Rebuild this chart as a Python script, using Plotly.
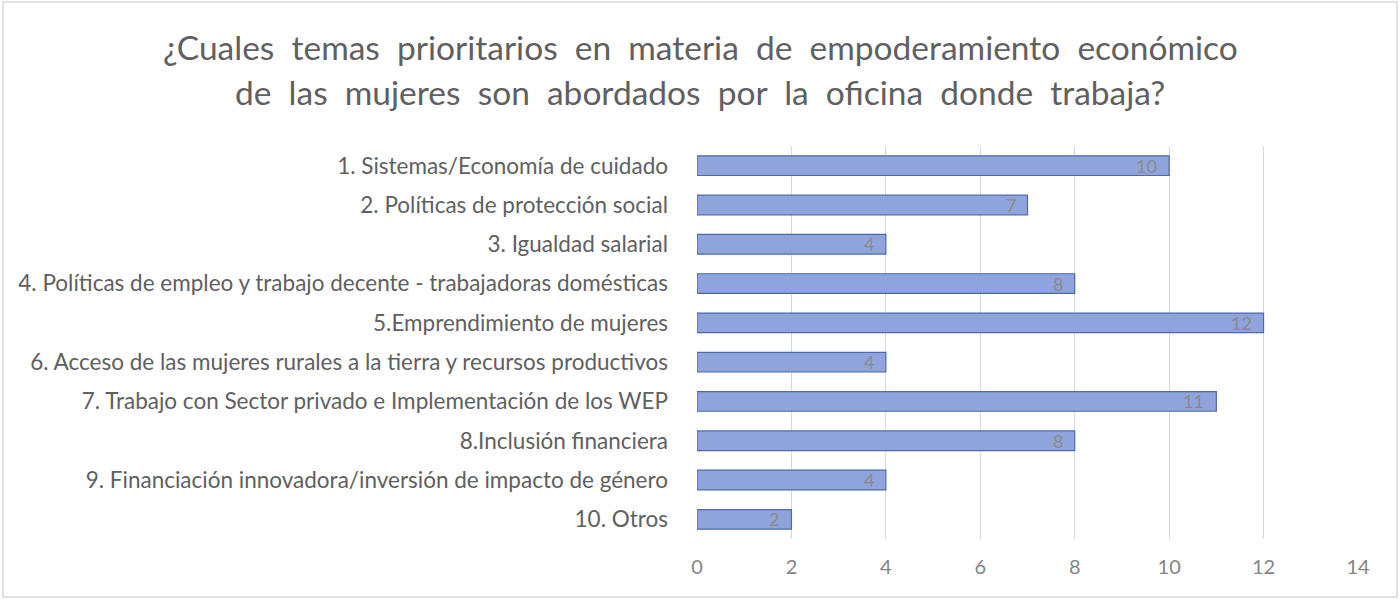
import plotly.graph_objects as go

# Survey topics and how many offices address each one
categories = [
    "1. Sistemas/Economía de cuidado",
    "2. Políticas de protección social",
    "3. Igualdad salarial",
    "4. Políticas de empleo y trabajo decente - trabajadoras domésticas",
    "5.Emprendimiento de mujeres",
    "6. Acceso de las mujeres rurales a la tierra y recursos productivos",
    "7. Trabajo con Sector privado e Implementación de los WEP",
    "8.Inclusión financiera",
    "9. Financiación innovadora/inversión de impacto de género",
    "10. Otros",
]
counts = [10, 7, 4, 8, 12, 4, 11, 8, 4, 2]
x_ticks = [0, 2, 4, 6, 8, 10, 12, 14]

title_lines = [
    "¿Cuales temas prioritarios en materia de empoderamiento económico",
    "de las mujeres son abordados por la oficina donde trabaja?",
]

FONT = "Lato, 'Open Sans', sans-serif"
GREY = "#606060"

# plot area geometry (pixels)
W, H = 1400, 600
L, R, T, B = 697, 42, 146, 61
PH = H - T - B
PW = W - L - R


def py(p):
    """Pixel row from the top -> paper y."""
    return (H - B - p) / PH


def px(p):
    """Pixel column from the left -> paper x."""
    return (p - L) / PW


fig = go.Figure(
    go.Bar(
        x=counts,
        y=categories,
        orientation="h",
        width=0.5,
        marker=dict(color="#8fa4da", line=dict(color="#4d6aa6", width=1.2)),
        hoverinfo="x+y",
    )
)

# value labels sit just inside the end of each bar
value_labels = [
    dict(text=str(v), x=v, y=c, xref="x", yref="y",
         xanchor="right", yanchor="middle", xshift=-10, showarrow=False,
         font=dict(family=FONT, size=18, color="#8a8a8a"))
    for c, v in zip(categories, counts)
]

spaced = [line.replace(" ", " \u00a0") for line in title_lines]
title_notes = [
    dict(text=spaced[0], x=px(700), y=py(47), xref="paper", yref="paper",
         xanchor="center", yanchor="middle", showarrow=False,
         font=dict(family=FONT, size=33.5, color=GREY)),
    dict(text=spaced[1], x=px(700), y=py(92), xref="paper", yref="paper",
         xanchor="center", yanchor="middle", showarrow=False,
         font=dict(family=FONT, size=33.5, color=GREY)),
]

fig.update_layout(
    width=W,
    height=H,
    paper_bgcolor="white",
    plot_bgcolor="white",
    margin=dict(l=L, r=R, t=T, b=B),
    annotations=title_notes + value_labels,
    xaxis=dict(
        range=[0, 14],
        tickvals=x_ticks,
        showgrid=True,
        gridcolor="#d9d9d9",
        gridwidth=1,
        zeroline=False,
        showline=False,
        ticks="",
        tickfont=dict(family=FONT, size=20, color="#858585"),
        ticklabelstandoff=14,
    ),
    yaxis=dict(
        autorange="reversed",
        showgrid=False,
        showline=False,
        ticks="",
        ticklabelstandoff=28,
        tickfont=dict(family=FONT, size=22.5, color=GREY),
    ),
    showlegend=False,
    shapes=[
        dict(type="rect", xref="paper", yref="paper",
             x0=px(3), x1=px(1397), y0=py(597), y1=py(2),
             line=dict(color="#d9d9d9", width=1.5), layer="below"),
    ],
)

fig.write_html("out.html")
